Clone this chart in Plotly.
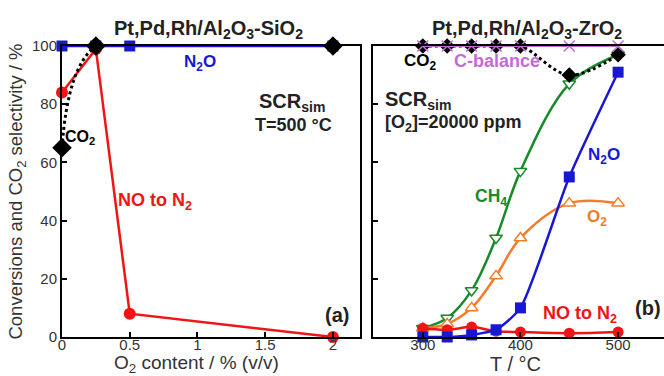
import plotly.graph_objects as go

# ---- Panel (a): SCR_sim at 500 °C vs O2 content ----
o2_content = [0, 0.25, 0.5, 2]
n2o_a = [100, 100, 100, 100]
no_to_n2_a = [84, 99, 8, 0]
co2_x_a = [0, 0.25, 2]
co2_a = [65, 100, 100]

# ---- Panel (b): SCR_sim with [O2]=20000 ppm vs temperature ----
temp_b = [300, 325, 350, 375, 400, 450, 500]
ch4_b = [3, 6.5, 16, 34, 57, 87, 97]
o2_b = [3, 4.5, 10, 21, 34, 46, 46]
n2o_b = [0, 0, 0.7, 2.5, 10, 55, 91]
no_to_n2_b = [3, 2.5, 3.4, 2, 1.7, 1.3, 1.7]
co2_b = [100, 100, 100, 100, 100, 90, 97]
c_balance_b = [100, 100, 100, 100, 100, 100, 100]

y_ticks = [0, 20, 40, 60, 80, 100]
x_ticks_a = [0, 0.5, 1, 1.5, 2]
x_tick_text_a = ["0", "0.5", "1", "1.5", "2"]
x_ticks_b = [300, 400, 500]

RED = "#f01414"
BLUE = "#1818d2"
GREEN = "#178a2a"
ORANGE = "#f07d2a"
VIOLET = "#c46ad6"
BLACK = "#000000"
DARK = "#222222"
GREY = "#333333"
FONT = "Liberation Sans, Arial, sans-serif"

fig = go.Figure()

# panel (a) traces
fig.add_trace(go.Scatter(x=o2_content, y=n2o_a, mode="lines+markers",
                         line=dict(color=BLUE, width=2.5),
                         marker=dict(symbol="square", size=11, color=BLUE),
                         xaxis="x", yaxis="y", cliponaxis=False))
fig.add_trace(go.Scatter(x=o2_content, y=no_to_n2_a, mode="lines+markers",
                         line=dict(color=RED, width=2.5),
                         marker=dict(symbol="circle", size=12, color=RED),
                         xaxis="x", yaxis="y", cliponaxis=False))
fig.add_trace(go.Scatter(x=co2_x_a, y=co2_a, mode="lines+markers",
                         line=dict(color=BLACK, width=3, dash="dot", shape="spline"),
                         marker=dict(symbol="diamond", size=15, color=BLACK),
                         xaxis="x", yaxis="y", cliponaxis=False))

# panel (b) traces
fig.add_trace(go.Scatter(x=temp_b, y=ch4_b, mode="lines+markers",
                         line=dict(color=GREEN, width=2.5, shape="spline"),
                         marker=dict(symbol="triangle-down", size=11, color="white",
                                     line=dict(color=GREEN, width=1.5)),
                         xaxis="x2", yaxis="y2", cliponaxis=False))
fig.add_trace(go.Scatter(x=temp_b, y=o2_b, mode="lines+markers",
                         line=dict(color=ORANGE, width=2.5, shape="spline"),
                         marker=dict(symbol="triangle-up", size=11, color="white",
                                     line=dict(color=ORANGE, width=1.5)),
                         xaxis="x2", yaxis="y2", cliponaxis=False))
fig.add_trace(go.Scatter(x=temp_b, y=no_to_n2_b, mode="lines+markers",
                         line=dict(color=RED, width=2.5, shape="spline"),
                         marker=dict(symbol="circle", size=11, color=RED),
                         xaxis="x2", yaxis="y2", cliponaxis=False))
fig.add_trace(go.Scatter(x=temp_b, y=n2o_b, mode="lines+markers",
                         line=dict(color=BLUE, width=2.5, shape="spline", smoothing=0.6),
                         marker=dict(symbol="square", size=11, color=BLUE),
                         xaxis="x2", yaxis="y2", cliponaxis=False))
fig.add_trace(go.Scatter(x=temp_b, y=co2_b, mode="lines+markers",
                         line=dict(color=BLACK, width=3, dash="dot", shape="spline"),
                         marker=dict(symbol="diamond", size=12, color=BLACK),
                         xaxis="x2", yaxis="y2", cliponaxis=False))
fig.add_trace(go.Scatter(x=temp_b, y=c_balance_b, mode="lines+markers",
                         line=dict(color=VIOLET, width=2),
                         marker=dict(symbol="x-thin", size=11,
                                     line=dict(color=VIOLET, width=1.5)),
                         xaxis="x2", yaxis="y2", cliponaxis=False))

axis_common = dict(showline=True, linecolor=BLACK, linewidth=2,
                   ticks="inside", ticklen=5, tickwidth=1.5, tickcolor=BLACK,
                   showgrid=False, zeroline=False, automargin=False,
                   tickfont=dict(family=FONT, size=15, color=GREY))

y_dom = [1 - 337 / 376, 1 - 46 / 376]

fig.update_layout(
    width=664, height=376,
    margin=dict(l=0, r=0, t=0, b=0),
    paper_bgcolor="white", plot_bgcolor="white",
    showlegend=False,
    xaxis=dict(axis_common, domain=[62 / 664, 360 / 664], range=[0, 2.2],
               tickvals=x_ticks_a, ticktext=x_tick_text_a, mirror=True,
               anchor="y", ticklabelstandoff=-7),
    yaxis=dict(axis_common, domain=y_dom, range=[0, 100],
               tickvals=y_ticks, mirror=True, anchor="x",
               title=dict(text="Conversions and CO<sub>2</sub> selectivity / %", standoff=4,
                          font=dict(family=FONT, size=18.5, color=GREY))),
    xaxis2=dict(axis_common, domain=[373 / 664, 1.0], range=[249, 547],
                tickvals=x_ticks_b, mirror=True, anchor="y2", ticklabelstandoff=-7),
    yaxis2=dict(axis_common, domain=y_dom, range=[0, 100],
                tickvals=y_ticks, showticklabels=False, mirror=False, anchor="x2"),
)

def note(text, x, y, color, size, xref="x", yref="y", xanchor="center"):
    fig.add_annotation(text=text, x=x, y=y, xref=xref, yref=yref,
                       showarrow=False, xanchor=xanchor, yanchor="middle",
                       font=dict(family=FONT, size=size, color=color))

# x-axis titles, placed beneath the tick labels
note("O<sub>2</sub> content / % (v/v)", 196 / 664, 1 - 364 / 376, GREY, 19,
     xref="paper", yref="paper")
note("T / °C", 515 / 664, 1 - 364 / 376, GREY, 20, xref="paper", yref="paper")

# panel (a) labels
note("<b>Pt,Pd,Rh/Al<sub>2</sub>O<sub>3</sub>-SiO<sub>2</sub></b>", 208 / 664, 1 - 29 / 376,
     DARK, 20, xref="paper", yref="paper")
note("<b>N<sub>2</sub>O</b>", 1.02, 94, BLUE, 17)
note("<b>SCR<sub>sim</sub></b>", 1.70, 80.5, DARK, 20)
note("<b>T=500 °C</b>", 1.71, 73, DARK, 18)
note("<b>CO<sub>2</sub></b>", 0.13, 68.5, BLACK, 16)
note("<b>NO to N<sub>2</sub></b>", 0.69, 46.4, RED, 18)
note("<b>(a)</b>", 2.03, 7.6, DARK, 20)

# panel (b) labels
note("<b>Pt,Pd,Rh/Al<sub>2</sub>O<sub>3</sub>-ZrO<sub>2</sub></b>", 527 / 664, 1 - 30 / 376,
     DARK, 20, xref="paper", yref="paper")
note("<b>CO<sub>2</sub></b>", 298, 94.5, BLACK, 17, xref="x2", yref="y2")
note("<b>C-balance</b>", 376, 94.8, VIOLET, 18, xref="x2", yref="y2")
note("<b>SCR<sub>sim</sub></b>", 259, 81.4, DARK, 20, xref="x2", yref="y2", xanchor="left")
note("<b>[O<sub>2</sub>]=20000 ppm</b>", 259, 73.5, DARK, 18, xref="x2", yref="y2",
     xanchor="left")
note("<b>N<sub>2</sub>O</b>", 486, 62.2, BLUE, 17, xref="x2", yref="y2")
note("<b>CH<sub>4</sub></b>", 370, 48, GREEN, 17.5, xref="x2", yref="y2")
note("<b>O<sub>2</sub></b>", 478, 41, ORANGE, 17, xref="x2", yref="y2")
note("<b>NO to N<sub>2</sub></b>", 461, 7.6, RED, 18, xref="x2", yref="y2")
note("<b>(b)</b>", 531, 10, DARK, 20, xref="x2", yref="y2")

fig.write_html("out.html")
